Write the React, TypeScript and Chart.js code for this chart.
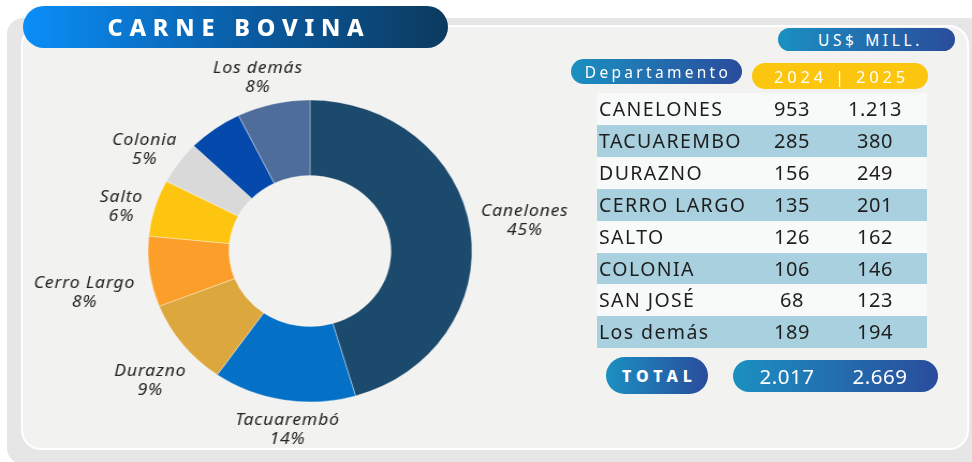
import React, { useEffect, useRef } from "react";
import { Chart, registerables } from "chart.js";

Chart.register(...registerables);

// ---- data ----
const title = "CARNE BOVINA";
const unitLabel = "US$ MILL.";
const columnHeader = "Departamento";
const yearsHeader = "2024 | 2025";

const tableDepartments = ["CANELONES", "TACUAREMBO", "DURAZNO", "CERRO LARGO", "SALTO", "COLONIA", "SAN JOSÉ", "Los demás"];
const values2024 = ["953", "285", "156", "135", "126", "106", "68", "189"];
const values2025 = ["1.213", "380", "249", "201", "162", "146", "123", "194"];
const totalLabel = "TOTAL";
const total2024 = "2.017";
const total2025 = "2.669";

const sliceNames = ["Canelones", "Tacuarembó", "Durazno", "Cerro Largo", "Salto", "Colonia", "", "Los demás"];
const sliceValues = [1213, 380, 249, 201, 162, 123, 146, 194];
const slicePercentText = ["45%", "14%", "9%", "8%", "6%", "5%", "", "8%"];

// ---- styles ----
const sliceColors = ["#1c4a6d", "#0470c6", "#dca73d", "#fb9f2a", "#fdc410", "#d9d9d9", "#0449ab", "#4e6d9b"];
const labelDistance = [1.34, 1.19, 1.31, 1.42, 1.2, 1.22, 1.2, 1.19];
const labelAngleShiftDeg = [-0.3, -2.6, -2.9, -3.4, -2.6, -2.6, 0, -2.6];
const SX = 162 / 151;
const CANVAS_W = 560;
const CANVAS_H = 420;

const labelPlugin = {
  id: "sliceLabels",
  afterDatasetsDraw(chart: any) {
    const ctx = chart.ctx;
    const meta = chart.getDatasetMeta(0);
    ctx.save();
    ctx.font = "italic 16.5px 'Noto Sans'";
    try { (ctx as any).letterSpacing = "0.7px"; } catch (e) {}
    ctx.fillStyle = "#262626";
    ctx.textAlign = "center";
    ctx.textBaseline = "middle";
    meta.data.forEach((arc: any, i: number) => {
      const name = sliceNames[i];
      if (!name) return;
      const p = arc.getProps(["x", "y", "startAngle", "endAngle", "outerRadius"], true);
      const mid = (p.startAngle + p.endAngle) / 2 + (labelAngleShiftDeg[i] * Math.PI) / 180;
      const r = p.outerRadius * labelDistance[i];
      const lx = p.x + Math.cos(mid) * r;
      const ly = p.y + Math.sin(mid) * r;
      ctx.fillText(name, lx, ly - 9.5);
      ctx.fillText(slicePercentText[i], lx, ly + 9.5);
    });
    ctx.restore();
  },
};

const pillGrad = "linear-gradient(90deg, #1b90c1 0%, #2a4c9c 100%)";

export default function App() {
  const canvasRef = useRef<HTMLCanvasElement | null>(null);

  useEffect(() => {
    if (!canvasRef.current) return;
    const chart = new Chart(canvasRef.current, {
      type: "doughnut",
      data: {
        labels: sliceNames.map((n) => n || "San José"),
        datasets: [
          {
            data: sliceValues,
            backgroundColor: sliceColors,
            borderColor: "rgba(255,255,255,0.35)",
            borderWidth: 1,
            radius: 151,
            cutout: "50%",
          } as any,
        ],
      },
      options: {
        animation: false,
        responsive: true,
        maintainAspectRatio: false,
        plugins: { legend: { display: false }, tooltip: { enabled: false } },
        layout: { padding: 0 },
      },
      plugins: [labelPlugin],
    });
    return () => chart.destroy();
  }, []);

  const rowH = 31.9;

  return (
    <div style={{ position: "fixed", left: 0, top: 0, width: 972, height: 462, overflow: "hidden", background: "#ffffff", fontFamily: "'Noto Sans', sans-serif" }}>
      <div style={{ position: "absolute", left: 7, top: 18, width: 990, height: 446, borderRadius: 16, background: "#e6e6e6" }} />
      <div style={{ position: "absolute", left: 21, top: 25, width: 948, height: 425, borderRadius: 20, background: "#f2f2f0", border: "2px solid #ffffff", boxSizing: "border-box" }} />

      <div style={{ position: "absolute", left: 310 - CANVAS_W / 2, top: 251 - CANVAS_H / 2, width: CANVAS_W, height: CANVAS_H, transform: `scaleX(${SX})`, transformOrigin: "50% 50%" }}>
        <canvas ref={canvasRef} />
      </div>

      <div style={{ position: "absolute", left: 23, top: 6, width: 425, height: 42, borderRadius: 21, background: "linear-gradient(90deg, #0a8ef8 0%, #0a5aa0 55%, #0b3a5e 100%)", display: "flex", alignItems: "center", justifyContent: "center", color: "#fff", fontWeight: 800, fontSize: 23.5, letterSpacing: 6.8, paddingLeft: 7, boxSizing: "border-box" }}>
        {title}
      </div>

      <div style={{ position: "absolute", left: 778, top: 28, width: 177, height: 23, borderRadius: 12, background: pillGrad, display: "flex", alignItems: "center", justifyContent: "center", color: "#fff", fontSize: 15.5, letterSpacing: 3.6, paddingLeft: 8, boxSizing: "border-box" }}>
        {unitLabel}
      </div>

      <div style={{ position: "absolute", left: 571, top: 59, width: 171, height: 25, borderRadius: 13, background: pillGrad, display: "flex", alignItems: "center", justifyContent: "center", color: "#fff", fontSize: 15.5, letterSpacing: 3.3, paddingLeft: 3, boxSizing: "border-box" }}>
        {columnHeader}
      </div>

      <div style={{ position: "absolute", left: 752, top: 63, width: 176, height: 26, borderRadius: 13, background: "#fdc60e", display: "flex", alignItems: "center", justifyContent: "center", color: "#fff", fontSize: 16.5, letterSpacing: 3.8, paddingLeft: 3, boxSizing: "border-box" }}>
        {yearsHeader}
      </div>

      <div style={{ position: "absolute", left: 597, top: 93, width: 330, height: rowH * 8, background: "#ffffff" }}>
        {tableDepartments.map((d, i) => (
          <div key={d} style={{ position: "absolute", left: 0, top: i * rowH, width: 330, height: rowH, background: i % 2 === 1 ? "#a8d0de" : "#f8f9f9", color: "#1e1e1e", fontSize: 19.5 }}>
            <span style={{ position: "absolute", left: 2, top: 0, lineHeight: `${rowH}px`, letterSpacing: 1.4 }}>{d}</span>
            <span style={{ position: "absolute", left: 155, width: 80, textAlign: "center", top: 0, lineHeight: `${rowH}px`, fontSize: 20, letterSpacing: 0.6 }}>{values2024[i]}</span>
            <span style={{ position: "absolute", left: 238, width: 80, textAlign: "center", top: 0, lineHeight: `${rowH}px`, fontSize: 20, letterSpacing: 0.6 }}>{values2025[i]}</span>
          </div>
        ))}
      </div>

      <div style={{ position: "absolute", left: 606, top: 357, width: 102, height: 37, borderRadius: 19, background: pillGrad, display: "flex", alignItems: "center", justifyContent: "center", color: "#fff", fontWeight: 800, fontSize: 16, letterSpacing: 5, paddingLeft: 5, boxSizing: "border-box" }}>
        {totalLabel}
      </div>

      <div style={{ position: "absolute", left: 733, top: 360, width: 205, height: 32, borderRadius: 16, background: pillGrad, color: "#fff", fontSize: 20.5 }}>
        <span style={{ position: "absolute", left: 14, width: 80, textAlign: "center", lineHeight: "32px", letterSpacing: 0.5 }}>{total2024}</span>
        <span style={{ position: "absolute", left: 107, width: 80, textAlign: "center", lineHeight: "32px", letterSpacing: 0.5 }}>{total2025}</span>
      </div>
    </div>
  );
}
